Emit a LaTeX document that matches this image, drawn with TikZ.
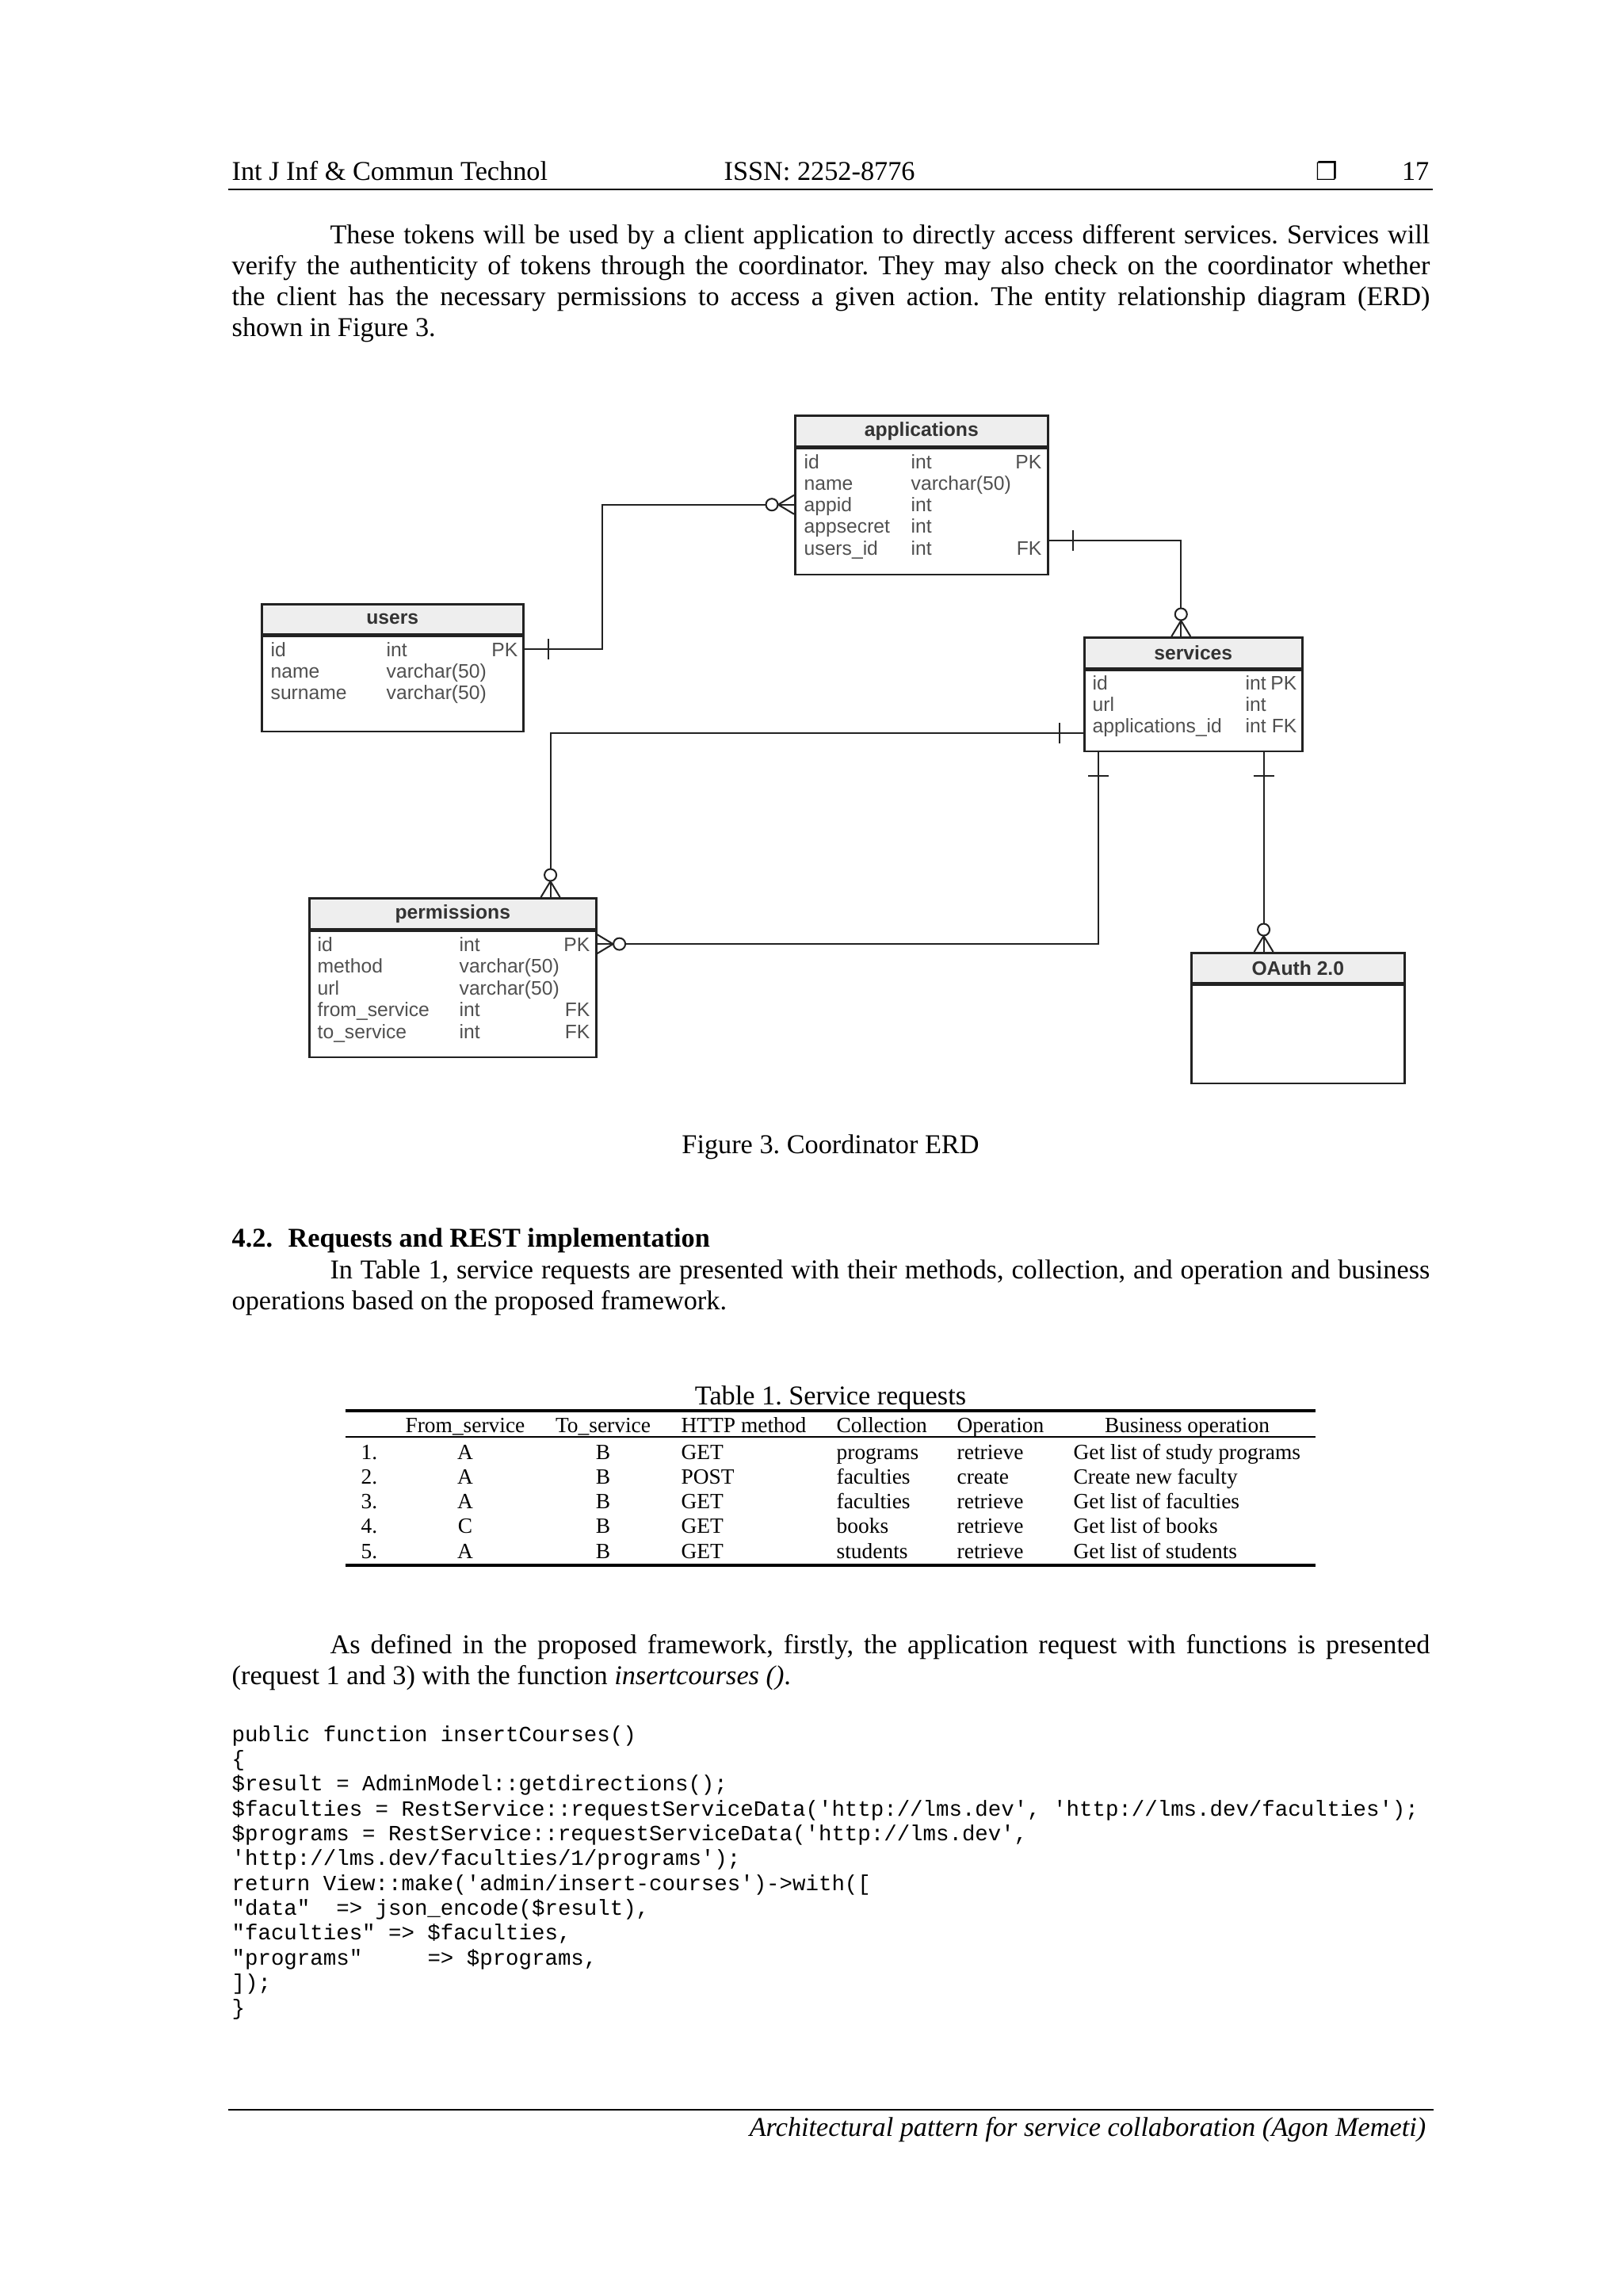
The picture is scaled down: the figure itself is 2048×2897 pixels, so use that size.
\documentclass[tikz,border=0pt]{standalone}
\usepackage{fontspec}
\setmainfont{Liberation Serif}
\setsansfont{Liberation Sans}
\setmonofont{Liberation Mono}
\newfontfamily\symfont{DejaVu Sans}
\usepackage{xcolor}
\usetikzlibrary{calc}
\definecolor{erdline}{HTML}{222222}
\definecolor{erdhead}{HTML}{EEEEEE}
\definecolor{erdtext}{HTML}{505050}
\definecolor{erdtitle}{HTML}{333333}
\newcommand\pxu{*0.10254mm}
\frenchspacing

\begin{document}
\begin{tikzpicture}[x=0.10254mm, y=-0.10254mm,
  txt/.style={inner sep=0pt, font=\fontsize{10}{11.3}\selectfont},
  para/.style={txt, anchor=north west, text width=155mm, align=justify},
  ent/.style={draw=erdline, fill=erdhead, line width=0.75pt, inner sep=0pt, anchor=north west,
    font=\sffamily\bfseries\fontsize{7.2}{8}\selectfont, text=erdtitle},
  entb/.style={draw=erdline, fill=white, line width=0.75pt, inner sep=0pt, anchor=north},
  fld/.style={inner sep=0pt, anchor=base west, text height=5.2pt, text depth=0pt,
    font=\sffamily\fontsize{7.2}{8}\selectfont, text=erdtext},
  fldk/.style={fld, anchor=base east},
  rel/.style={draw=erdline, line width=0.6pt},
  tcell/.style={inner sep=0pt, anchor=base west, font=\fontsize{8}{9.5}\selectfont},
  tcellc/.style={tcell, anchor=base},
  codeln/.style={inner sep=0pt, anchor=base west, font=\ttfamily\fontsize{8}{9}\selectfont},
  onebar/.pic={\draw[rel] (-30,-13) -- (-30,13);},
  zmany/.pic={\draw[rel] (0,-12) -- (-20,0) -- (0,12);
    \draw[rel, fill=white] (-28,0) circle[radius=7.5];}]
  \useasboundingbox (0,0) rectangle (2048,2897);
  \fill[white] (0,0) rectangle (2048,2897);

  % running head
  \node[txt, anchor=base west] (hd-l) at (292,227) {Int J Inf \& Commun Technol};
  \node[txt, anchor=base west] (hd-m) at (913,227) {ISSN: 2252-8776};
  \node[txt, anchor=base west, font=\symfont\fontsize{9}{10}\selectfont] (hd-s) at (1660,227) {❐};
  \node[txt, anchor=base east] (hd-p) at (1804,227) {17};
  \draw[line width=0.85pt] (288,239) -- (1808,239);

  \node[para] (par1) at (292,280) {\strut\hspace*{12.7mm}These tokens will be used by a client application to directly access different services. Services will\linebreak
    verify the authenticity of tokens through the coordinator. They may also check on the coordinator whether\linebreak
    the client has the necessary permissions to access a given action. The entity relationship diagram (ERD)\linebreak
    shown in Figure 3.};

  % ERD: applications
  \node[ent, minimum width=319\pxu, minimum height=39\pxu] (app) at (1002,523) {applications};
  \node[entb, minimum width=319\pxu, minimum height=159\pxu] (app-b) at (app.south) {};
  \foreach \fn/\ft/\fk [count=\i] in {id/int/PK, name/varchar(50)/{}, appid/int/{}, appsecret/int/{}, users\_id/int/FK} {
    \node[fld] (app-\i) at (1014,{591+27.3*(\i-1)}) {\fn};
    \node[fld] (app-t\i) at (1149,{591+27.3*(\i-1)}) {\ft};
    \node[fldk] (app-k\i) at (1315,{591+27.3*(\i-1)}) {\fk};
  }
  % users
  \node[ent, minimum width=330\pxu, minimum height=38\pxu] (usr) at (329,761) {users};
  \node[entb, minimum width=330\pxu, minimum height=120\pxu] (usr-b) at (usr.south) {};
  \foreach \fn/\ft/\fk [count=\i] in {id/int/PK, name/varchar(50)/{}, surname/varchar(50)/{}} {
    \node[fld] (usr-\i) at (341,{828+27.3*(\i-1)}) {\fn};
    \node[fld] (usr-t\i) at (487,{828+27.3*(\i-1)}) {\ft};
    \node[fldk] (usr-k\i) at (654,{828+27.3*(\i-1)}) {\fk};
  }
  % services
  \node[ent, minimum width=275\pxu, minimum height=39\pxu] (svc) at (1367,803) {services};
  \node[entb, minimum width=275\pxu, minimum height=102\pxu] (svc-b) at (svc.south) {};
  \foreach \fn/\ft/\fk [count=\i] in {id/int/PK, url/int/{}, applications\_id/int/FK} {
    \node[fld] (svc-\i) at (1378,{870+27.3*(\i-1)}) {\fn};
    \node[fld] (svc-t\i) at (1571,{870+27.3*(\i-1)}) {\ft};
    \node[fldk] (svc-k\i) at (1637,{870+27.3*(\i-1)}) {\fk};
  }
  % permissions
  \node[ent, minimum width=362\pxu, minimum height=39\pxu] (prm) at (389,1132) {permissions};
  \node[entb, minimum width=362\pxu, minimum height=159\pxu] (prm-b) at (prm.south) {};
  \foreach \fn/\ft/\fk [count=\i] in {id/int/PK, method/varchar(50)/{}, url/varchar(50)/{}, from\_service/int/FK, to\_service/int/FK} {
    \node[fld] (prm-\i) at (400,{1200+27.5*(\i-1)}) {\fn};
    \node[fld] (prm-t\i) at (579,{1200+27.5*(\i-1)}) {\ft};
    \node[fldk] (prm-k\i) at (745,{1200+27.5*(\i-1)}) {\fk};
  }
  % OAuth
  \node[ent, minimum width=269\pxu, minimum height=38\pxu] (oau) at (1502,1201) {OAuth 2.0};
  \node[entb, minimum width=269\pxu, minimum height=124\pxu] (oau-b) at (oau.south) {};

  % relations
  \draw[rel] (usr-b.east |- usr-1) coordinate (r1a) -- ++(98,0) |- (app-b.west |- app-3) coordinate (r1b);
  \draw[rel] (app-b.east |- app-k5.north) coordinate (r2a) -| ($(svc.north)+(-15.5,0)$) coordinate (r2b);
  \draw[rel] (svc-b.west |- svc-3.south) coordinate (r3a) -| ($(prm.north east)+(-59,0)$) coordinate (r3b);
  \draw[rel] ($(svc-b.south west)+(19,0)$) coordinate (r4a) |- (prm-b.east |- prm-1) coordinate (r4b);
  \coordinate (r5a) at ($(svc-b.south east)+(-50,0)$);
  \draw[rel] (r5a) -- (r5a |- oau.north) coordinate (r5b);
  \pic[rotate=180] at (r1a) {onebar};
  \pic at (r1b) {zmany};
  \pic[rotate=180] at (r2a) {onebar};
  \pic[rotate=-90] at (r2b) {zmany};
  \pic at (r3a) {onebar};
  \pic[rotate=-90] at (r3b) {zmany};
  \pic[rotate=90] at (r4a) {onebar};
  \pic[rotate=180] at (r4b) {zmany};
  \pic[rotate=90] at (r5a) {onebar};
  \pic[rotate=-90] at (r5b) {zmany};

  \node[txt, anchor=base] (fig-cap) at (1048,1455) {Figure 3. Coordinator ERD};

  \node[txt, anchor=base west, font=\bfseries\fontsize{10}{11.3}\selectfont] (sec) at (292,1573) {4.2.\hspace{2mm}Requests and REST implementation};
  \node[para] (par2) at (292,1586) {\strut\hspace*{12.7mm}In Table 1, service requests are presented with their methods, collection, and operation and business\linebreak
    operations based on the proposed framework.};

  % table
  \node[txt, anchor=base] (tab-cap) at (1048,1772) {Table 1. Service requests};
  \draw[line width=1pt] (436,1780) -- (1660,1780);
  \draw[line width=0.8pt] (436,1813) -- (1660,1813);
  \draw[line width=1pt] (436,1975) -- (1660,1975);
  \node[tcellc] (th-1) at (587,1807) {From\_service};
  \node[tcellc] (th-2) at (761,1807) {To\_service};
  \node[tcell] (th-3) at (859,1807) {HTTP method};
  \node[tcell] (th-4) at (1055,1807) {Collection};
  \node[tcell] (th-5) at (1207,1807) {Operation};
  \node[tcellc] (th-6) at (1498,1807) {Business operation};
  \foreach \num/\src/\dst/\mth/\coll/\oper/\biz [count=\i] in {
      1./A/B/GET/programs/retrieve/Get list of study programs,
      2./A/B/POST/faculties/create/Create new faculty,
      3./A/B/GET/faculties/retrieve/Get list of faculties,
      4./C/B/GET/books/retrieve/Get list of books,
      5./A/B/GET/students/retrieve/Get list of students} {
    \node[tcell] (td-\i-1) at (455,{1841+31.3*(\i-1)}) {\num};
    \node[tcellc] (td-\i-2) at (587,{1841+31.3*(\i-1)}) {\src};
    \node[tcellc] (td-\i-3) at (761,{1841+31.3*(\i-1)}) {\dst};
    \node[tcell] (td-\i-4) at (859,{1841+31.3*(\i-1)}) {\mth};
    \node[tcell] (td-\i-5) at (1055,{1841+31.3*(\i-1)}) {\coll};
    \node[tcell] (td-\i-6) at (1207,{1841+31.3*(\i-1)}) {\oper};
    \node[tcell] (td-\i-7) at (1354,{1841+31.3*(\i-1)}) {\biz};
  }

  \node[para] (par3) at (292,2059) {\strut\hspace*{12.7mm}As defined in the proposed framework, firstly, the application request with functions is presented\linebreak
    (request 1 and 3) with the function \textit{insertcourses ()}.};

  % code listing
  \node[codeln] (cd-1) at (292,2197) {public function insertCourses()};
  \node[codeln] (cd-2) at (292,2228.4) {\{};
  \node[codeln] (cd-3) at (292,2259.7) {\$result = AdminModel::getdirections();};
  \node[codeln] (cd-4) at (292,2291.1) {\$faculties = RestService::requestServiceData('http://lms.dev', 'http://lms.dev/faculties');};
  \node[codeln] (cd-5) at (292,2322.4) {\$programs = RestService::requestServiceData('http://lms.dev',};
  \node[codeln] (cd-6) at (292,2353.8) {'http://lms.dev/faculties/1/programs');};
  \node[codeln] (cd-7) at (292,2385.2) {return View::make('admin/insert-courses')->with([};
  \node[codeln] (cd-8) at (292,2416.5) {"data"\ \ => json\_encode(\$result),};
  \node[codeln] (cd-9) at (292,2447.9) {"faculties" => \$faculties,};
  \node[codeln] (cd-10) at (292,2479.2) {"programs"\ \ \ \ \ => \$programs,};
  \node[codeln] (cd-11) at (292,2510.6) {]);};
  \node[codeln] (cd-12) at (292,2542) {\}};

  % running foot
  \draw[line width=0.85pt] (288,2662) -- (1809,2662);
  \node[txt, anchor=base east, font=\itshape\fontsize{10}{11.3}\selectfont] (ft) at (1800,2695) {Architectural pattern for service collaboration (Agon Memeti)};
\end{tikzpicture}
\end{document}
